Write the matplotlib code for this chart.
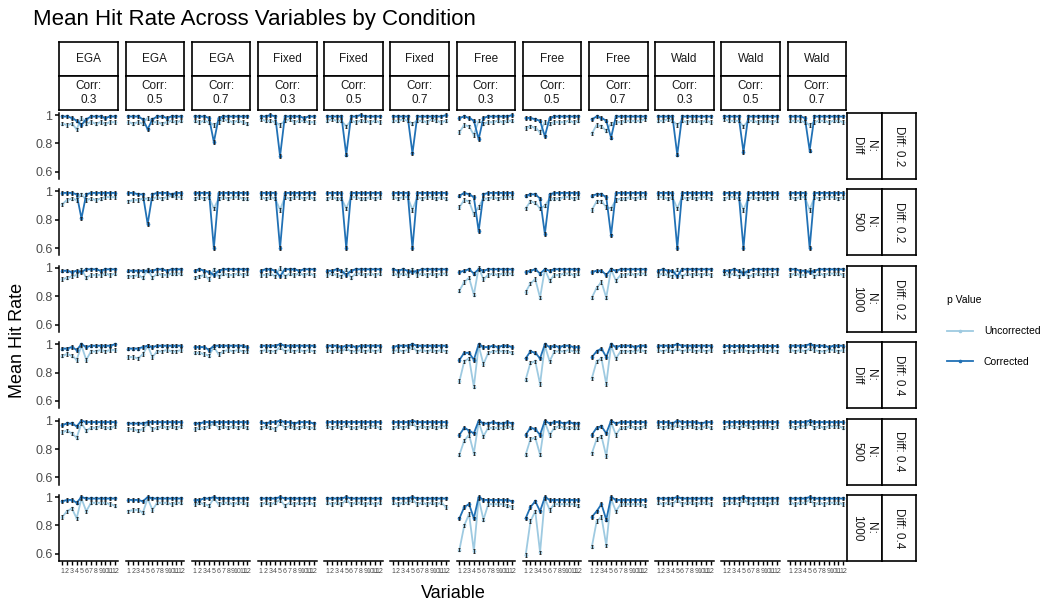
import matplotlib.pyplot as plt
from matplotlib.lines import Line2D

plt.rcParams['font.family'] = ['Liberation Sans', 'DejaVu Sans']

variables = list(range(1, 13))
methods = ['EGA', 'EGA', 'EGA', 'Fixed', 'Fixed', 'Fixed',
           'Free', 'Free', 'Free', 'Wald', 'Wald', 'Wald']
corr_levels = ['0.3', '0.5', '0.7'] * 4
n_labels = ['Diff', '500', '1000', 'Diff', '500', '1000']
diff_labels = ['0.2', '0.2', '0.2', '0.4', '0.4', '0.4']
ci_half = 0.012

# one list of 12 panels (columns) per row, 12 variables per panel
corr_r1 = [
    [0.99, 0.99, 0.98, 0.96, 0.93, 0.97, 0.99, 0.99, 0.99, 0.98, 0.99, 0.99],
    [0.99, 0.99, 0.99, 0.97, 0.90, 0.97, 0.99, 0.99, 0.98, 0.99, 0.99, 0.99],
    [0.99, 0.99, 0.99, 0.98, 0.81, 0.98, 0.99, 0.99, 0.99, 0.99, 0.99, 0.99],
    [0.99, 0.99, 1.00, 0.99, 0.71, 0.99, 0.99, 0.99, 0.99, 0.98, 0.99, 0.99],
    [0.99, 0.99, 0.99, 0.99, 0.72, 0.99, 0.99, 1.00, 0.99, 0.99, 0.99, 0.99],
    [0.99, 0.99, 0.99, 0.99, 0.73, 0.99, 0.99, 0.99, 0.99, 0.99, 0.99, 1.00],
    [0.98, 0.99, 0.98, 0.96, 0.83, 0.98, 0.99, 0.99, 0.99, 0.99, 0.99, 1.00],
    [0.98, 0.98, 0.97, 0.96, 0.85, 0.98, 0.99, 0.99, 0.99, 0.99, 0.99, 0.99],
    [0.97, 0.99, 0.98, 0.96, 0.84, 0.99, 0.99, 0.99, 0.99, 0.99, 0.99, 0.99],
    [0.99, 0.99, 0.99, 0.99, 0.72, 0.99, 0.99, 0.99, 0.99, 0.99, 0.99, 0.99],
    [0.99, 0.99, 0.99, 0.99, 0.74, 0.99, 0.99, 0.99, 0.99, 0.99, 0.99, 0.99],
    [0.99, 0.99, 0.99, 0.98, 0.75, 0.99, 0.99, 0.99, 0.99, 0.99, 0.99, 0.99],
]
unc_r1 = [
    [0.94, 0.93, 0.94, 0.90, 0.98, 0.94, 0.95, 0.94, 0.95, 0.94, 0.95, 0.95],
    [0.95, 0.94, 0.95, 0.94, 0.98, 0.95, 0.95, 0.94, 0.95, 0.96, 0.95, 0.96],
    [0.96, 0.95, 0.96, 0.95, 0.93, 0.95, 0.97, 0.96, 0.95, 0.96, 0.95, 0.94],
    [0.97, 0.96, 0.96, 0.95, 0.93, 0.96, 0.97, 0.95, 0.96, 0.96, 0.95, 0.95],
    [0.96, 0.97, 0.96, 0.96, 0.92, 0.96, 0.95, 0.96, 0.96, 0.95, 0.96, 0.95],
    [0.96, 0.96, 0.97, 0.96, 0.94, 0.96, 0.96, 0.95, 0.97, 0.96, 0.95, 0.96],
    [0.88, 0.93, 0.92, 0.86, 0.96, 0.94, 0.95, 0.95, 0.96, 0.95, 0.96, 0.96],
    [0.91, 0.92, 0.91, 0.88, 0.95, 0.94, 0.95, 0.95, 0.95, 0.96, 0.95, 0.96],
    [0.87, 0.93, 0.92, 0.89, 0.94, 0.95, 0.95, 0.96, 0.96, 0.96, 0.96, 0.97],
    [0.96, 0.96, 0.97, 0.96, 0.93, 0.96, 0.95, 0.96, 0.96, 0.95, 0.96, 0.95],
    [0.97, 0.96, 0.96, 0.96, 0.92, 0.96, 0.96, 0.95, 0.96, 0.96, 0.95, 0.96],
    [0.96, 0.96, 0.96, 0.95, 0.93, 0.95, 0.96, 0.96, 0.95, 0.96, 0.96, 0.95],
]

corr_r2 = [
    [0.99, 0.99, 0.99, 0.98, 0.81, 0.98, 0.99, 0.99, 0.99, 0.99, 0.99, 0.99],
    [0.99, 0.99, 0.98, 0.98, 0.77, 0.98, 0.99, 0.99, 0.99, 0.98, 0.99, 0.99],
    [0.99, 0.99, 0.99, 0.99, 0.60, 0.99, 0.99, 0.99, 0.99, 0.99, 0.99, 0.99],
    [0.99, 0.99, 0.99, 0.99, 0.60, 0.99, 0.99, 0.99, 0.99, 0.99, 0.99, 0.99],
    [0.99, 0.99, 0.99, 0.99, 0.60, 0.99, 0.99, 0.99, 0.99, 0.99, 0.99, 0.99],
    [0.99, 0.99, 0.99, 0.99, 0.60, 0.99, 0.99, 0.99, 0.99, 0.99, 0.99, 0.99],
    [0.97, 0.99, 0.98, 0.96, 0.72, 0.98, 0.99, 0.99, 0.99, 0.99, 0.99, 0.99],
    [0.97, 0.98, 0.98, 0.95, 0.70, 0.98, 0.99, 0.99, 0.99, 0.99, 0.99, 0.99],
    [0.97, 0.98, 0.98, 0.96, 0.69, 0.99, 0.99, 0.99, 0.99, 0.99, 0.99, 0.99],
    [0.99, 0.99, 0.99, 0.99, 0.60, 0.99, 0.99, 0.99, 0.99, 0.99, 0.99, 0.99],
    [0.99, 0.99, 0.99, 0.99, 0.60, 0.99, 0.99, 0.99, 0.99, 0.99, 0.99, 0.99],
    [0.99, 0.99, 0.99, 0.99, 0.60, 0.99, 0.99, 0.99, 0.99, 0.99, 0.99, 0.99],
]
unc_r2 = [
    [0.91, 0.94, 0.95, 0.94, 0.98, 0.94, 0.95, 0.94, 0.95, 0.96, 0.96, 0.96],
    [0.93, 0.94, 0.94, 0.95, 0.95, 0.95, 0.96, 0.95, 0.96, 0.97, 0.96, 0.96],
    [0.95, 0.96, 0.95, 0.96, 0.88, 0.95, 0.96, 0.95, 0.96, 0.96, 0.95, 0.95],
    [0.96, 0.95, 0.96, 0.95, 0.87, 0.96, 0.95, 0.96, 0.96, 0.95, 0.96, 0.95],
    [0.95, 0.96, 0.95, 0.95, 0.88, 0.96, 0.96, 0.95, 0.95, 0.96, 0.95, 0.96],
    [0.96, 0.95, 0.96, 0.96, 0.87, 0.96, 0.95, 0.96, 0.96, 0.95, 0.96, 0.95],
    [0.89, 0.94, 0.93, 0.84, 0.89, 0.95, 0.95, 0.96, 0.95, 0.96, 0.96, 0.96],
    [0.88, 0.93, 0.92, 0.88, 0.90, 0.95, 0.95, 0.95, 0.96, 0.96, 0.95, 0.96],
    [0.87, 0.93, 0.93, 0.89, 0.88, 0.94, 0.95, 0.95, 0.96, 0.95, 0.96, 0.96],
    [0.96, 0.96, 0.95, 0.96, 0.88, 0.96, 0.95, 0.96, 0.95, 0.96, 0.96, 0.95],
    [0.95, 0.96, 0.96, 0.95, 0.87, 0.95, 0.96, 0.95, 0.96, 0.95, 0.96, 0.96],
    [0.96, 0.95, 0.96, 0.96, 0.87, 0.96, 0.95, 0.96, 0.96, 0.96, 0.95, 0.96],
]

corr_r3 = [
    [0.98, 0.98, 0.97, 0.98, 0.97, 0.99, 0.99, 0.99, 0.98, 0.99, 0.99, 0.99],
    [0.98, 0.98, 0.98, 0.98, 0.98, 0.98, 0.99, 0.99, 0.98, 0.99, 0.99, 0.99],
    [0.98, 0.99, 0.98, 0.97, 0.95, 0.98, 0.99, 0.99, 0.99, 0.99, 0.99, 0.99],
    [0.98, 0.99, 0.99, 0.98, 0.94, 0.99, 0.99, 0.99, 0.98, 0.99, 0.99, 0.99],
    [0.98, 0.98, 0.99, 0.98, 0.95, 0.98, 0.99, 0.99, 0.99, 0.99, 0.99, 0.99],
    [0.99, 0.98, 0.99, 0.98, 0.97, 0.98, 0.99, 0.99, 0.99, 0.99, 0.99, 0.99],
    [0.97, 0.98, 0.99, 0.96, 0.99, 0.98, 0.99, 0.99, 0.99, 0.99, 0.99, 0.99],
    [0.97, 0.98, 0.99, 0.96, 0.99, 0.98, 0.99, 0.99, 0.99, 0.99, 0.99, 0.99],
    [0.97, 0.98, 0.98, 0.95, 0.99, 0.98, 0.99, 0.99, 0.99, 0.99, 0.99, 0.99],
    [0.98, 0.99, 0.98, 0.98, 0.94, 0.99, 0.99, 0.99, 0.99, 0.99, 0.99, 0.99],
    [0.98, 0.98, 0.99, 0.98, 0.96, 0.98, 0.99, 0.99, 0.99, 0.99, 0.99, 0.99],
    [0.99, 0.99, 0.98, 0.98, 0.97, 0.98, 0.99, 0.99, 0.99, 0.99, 0.99, 0.99],
]
unc_r3 = [
    [0.92, 0.93, 0.94, 0.95, 0.99, 0.93, 0.95, 0.95, 0.95, 0.96, 0.95, 0.96],
    [0.94, 0.94, 0.95, 0.93, 0.99, 0.93, 0.96, 0.95, 0.95, 0.96, 0.96, 0.96],
    [0.93, 0.94, 0.95, 0.92, 0.99, 0.94, 0.96, 0.95, 0.95, 0.96, 0.95, 0.96],
    [0.95, 0.95, 0.96, 0.94, 1.00, 0.94, 0.96, 0.95, 0.96, 0.95, 0.96, 0.95],
    [0.95, 0.96, 0.95, 0.94, 0.99, 0.93, 0.96, 0.96, 0.95, 0.96, 0.95, 0.96],
    [0.96, 0.95, 0.96, 0.95, 0.99, 0.95, 0.96, 0.95, 0.96, 0.95, 0.96, 0.96],
    [0.84, 0.90, 0.93, 0.81, 1.00, 0.92, 0.95, 0.96, 0.95, 0.96, 0.96, 0.96],
    [0.83, 0.89, 0.92, 0.79, 0.99, 0.91, 0.95, 0.95, 0.96, 0.96, 0.95, 0.96],
    [0.79, 0.86, 0.90, 0.79, 0.99, 0.91, 0.95, 0.95, 0.96, 0.95, 0.96, 0.96],
    [0.95, 0.96, 0.95, 0.94, 0.99, 0.94, 0.96, 0.95, 0.96, 0.95, 0.96, 0.95],
    [0.96, 0.95, 0.96, 0.94, 0.99, 0.94, 0.95, 0.96, 0.95, 0.96, 0.95, 0.96],
    [0.95, 0.96, 0.95, 0.95, 0.99, 0.94, 0.96, 0.95, 0.96, 0.96, 0.96, 0.95],
]

corr_r4 = [
    [0.97, 0.97, 0.98, 0.96, 1.00, 0.98, 0.99, 0.99, 0.99, 0.99, 0.99, 1.00],
    [0.97, 0.97, 0.97, 0.98, 0.99, 0.98, 0.99, 0.99, 0.99, 0.99, 0.99, 0.99],
    [0.98, 0.98, 0.98, 0.96, 0.99, 0.99, 0.99, 0.99, 0.99, 0.99, 0.99, 0.98],
    [0.99, 0.99, 0.99, 0.99, 1.00, 0.99, 0.99, 0.99, 0.99, 0.99, 0.99, 0.99],
    [0.99, 0.99, 0.99, 0.98, 0.99, 0.99, 0.98, 0.99, 0.99, 0.99, 0.99, 0.99],
    [0.98, 0.99, 0.99, 0.99, 1.00, 0.99, 0.99, 0.99, 0.99, 0.99, 0.99, 0.99],
    [0.89, 0.94, 0.94, 0.89, 1.00, 0.98, 0.98, 0.99, 0.98, 0.99, 0.99, 0.98],
    [0.90, 0.95, 0.94, 0.90, 1.00, 0.98, 0.99, 0.98, 0.99, 0.99, 0.98, 0.98],
    [0.91, 0.95, 0.97, 0.91, 1.00, 0.98, 0.99, 0.99, 0.99, 0.98, 0.99, 0.99],
    [0.99, 0.99, 0.99, 0.99, 1.00, 0.99, 0.99, 0.99, 0.99, 0.99, 0.99, 0.99],
    [0.99, 0.99, 0.99, 0.99, 0.99, 0.99, 0.99, 0.99, 0.99, 0.99, 0.99, 0.99],
    [0.99, 0.99, 0.99, 0.99, 1.00, 0.99, 0.99, 0.99, 0.98, 0.99, 0.99, 0.99],
]
unc_r4 = [
    [0.92, 0.93, 0.92, 0.89, 0.99, 0.89, 0.95, 0.95, 0.96, 0.95, 0.96, 0.96],
    [0.91, 0.91, 0.90, 0.93, 0.99, 0.91, 0.95, 0.95, 0.96, 0.95, 0.95, 0.96],
    [0.94, 0.94, 0.93, 0.92, 0.98, 0.93, 0.95, 0.96, 0.95, 0.96, 0.95, 0.95],
    [0.95, 0.96, 0.95, 0.95, 0.98, 0.95, 0.96, 0.95, 0.96, 0.95, 0.96, 0.95],
    [0.96, 0.95, 0.96, 0.95, 0.97, 0.95, 0.95, 0.96, 0.95, 0.96, 0.95, 0.96],
    [0.95, 0.96, 0.95, 0.96, 0.98, 0.95, 0.96, 0.95, 0.96, 0.95, 0.96, 0.95],
    [0.74, 0.88, 0.90, 0.70, 0.99, 0.86, 0.94, 0.95, 0.95, 0.95, 0.95, 0.94],
    [0.75, 0.87, 0.88, 0.72, 0.99, 0.88, 0.95, 0.95, 0.95, 0.96, 0.95, 0.95],
    [0.76, 0.88, 0.90, 0.72, 0.99, 0.90, 0.95, 0.95, 0.95, 0.95, 0.96, 0.95],
    [0.96, 0.95, 0.96, 0.95, 0.97, 0.95, 0.96, 0.96, 0.95, 0.96, 0.95, 0.96],
    [0.95, 0.96, 0.95, 0.96, 0.96, 0.95, 0.95, 0.96, 0.96, 0.95, 0.96, 0.95],
    [0.96, 0.95, 0.96, 0.95, 0.97, 0.96, 0.95, 0.95, 0.96, 0.96, 0.95, 0.96],
]

corr_r5 = [
    [0.97, 0.98, 0.98, 0.96, 1.00, 0.99, 0.99, 0.99, 0.99, 0.99, 0.99, 0.99],
    [0.98, 0.98, 0.98, 0.98, 0.99, 0.99, 0.99, 0.99, 0.99, 0.99, 0.99, 0.99],
    [0.98, 0.98, 0.99, 0.99, 0.99, 0.99, 0.99, 0.99, 0.99, 0.99, 0.99, 0.99],
    [0.99, 0.98, 0.99, 0.99, 1.00, 0.99, 0.99, 0.98, 0.99, 0.99, 0.99, 0.98],
    [0.99, 0.99, 0.99, 0.99, 0.99, 0.99, 0.99, 0.99, 0.99, 0.99, 0.99, 0.99],
    [0.99, 0.99, 0.99, 0.99, 1.00, 0.99, 0.99, 0.99, 0.99, 0.99, 0.99, 0.99],
    [0.90, 0.95, 0.93, 0.91, 1.00, 0.98, 0.98, 0.99, 0.98, 0.98, 0.99, 0.98],
    [0.90, 0.95, 0.94, 0.90, 1.00, 0.98, 0.99, 0.99, 0.98, 0.99, 0.98, 0.98],
    [0.90, 0.95, 0.96, 0.91, 1.00, 0.98, 0.99, 0.99, 0.99, 0.99, 0.99, 0.99],
    [0.99, 0.99, 0.99, 0.98, 1.00, 0.99, 0.99, 0.99, 0.99, 0.98, 0.99, 0.99],
    [0.99, 0.99, 0.99, 0.99, 0.99, 0.99, 0.99, 0.99, 0.99, 0.99, 0.99, 0.99],
    [0.99, 0.99, 0.99, 0.99, 1.00, 0.99, 0.99, 0.99, 0.99, 0.99, 0.99, 0.99],
]
unc_r5 = [
    [0.92, 0.93, 0.91, 0.88, 0.98, 0.93, 0.95, 0.95, 0.96, 0.95, 0.95, 0.96],
    [0.94, 0.94, 0.93, 0.94, 0.98, 0.94, 0.95, 0.96, 0.95, 0.96, 0.95, 0.96],
    [0.94, 0.95, 0.95, 0.96, 0.98, 0.95, 0.96, 0.95, 0.96, 0.95, 0.96, 0.95],
    [0.95, 0.96, 0.95, 0.94, 0.98, 0.95, 0.96, 0.95, 0.95, 0.96, 0.95, 0.95],
    [0.96, 0.95, 0.96, 0.95, 0.97, 0.95, 0.95, 0.96, 0.95, 0.96, 0.96, 0.95],
    [0.95, 0.96, 0.95, 0.96, 0.98, 0.95, 0.96, 0.95, 0.96, 0.95, 0.96, 0.96],
    [0.76, 0.86, 0.90, 0.77, 0.99, 0.89, 0.95, 0.95, 0.95, 0.95, 0.96, 0.95],
    [0.76, 0.87, 0.88, 0.76, 0.99, 0.90, 0.95, 0.96, 0.95, 0.95, 0.95, 0.95],
    [0.77, 0.87, 0.89, 0.75, 0.99, 0.90, 0.95, 0.95, 0.96, 0.95, 0.95, 0.96],
    [0.96, 0.95, 0.96, 0.95, 0.97, 0.95, 0.96, 0.96, 0.95, 0.95, 0.96, 0.95],
    [0.95, 0.96, 0.96, 0.95, 0.97, 0.96, 0.95, 0.96, 0.96, 0.96, 0.95, 0.96],
    [0.96, 0.95, 0.96, 0.96, 0.98, 0.95, 0.96, 0.95, 0.96, 0.96, 0.96, 0.95],
]

corr_r6 = [
    [0.97, 0.98, 0.98, 0.96, 1.00, 0.99, 0.99, 0.99, 0.99, 0.99, 0.99, 0.99],
    [0.98, 0.98, 0.98, 0.97, 1.00, 0.99, 0.99, 0.99, 0.99, 0.99, 0.99, 0.99],
    [0.98, 0.98, 0.99, 0.99, 1.00, 0.99, 0.99, 0.99, 0.99, 0.99, 0.99, 0.99],
    [0.99, 0.99, 0.99, 0.99, 1.00, 0.99, 0.99, 0.99, 0.99, 0.99, 0.99, 0.99],
    [0.99, 0.99, 0.99, 0.99, 1.00, 0.99, 0.99, 0.99, 0.99, 0.99, 0.99, 0.99],
    [0.99, 0.99, 0.99, 0.99, 1.00, 0.99, 0.99, 0.99, 0.99, 0.99, 0.99, 0.99],
    [0.85, 0.93, 0.95, 0.85, 1.00, 0.98, 0.98, 0.98, 0.98, 0.98, 0.98, 0.97],
    [0.85, 0.93, 0.97, 0.90, 1.00, 0.98, 0.98, 0.98, 0.98, 0.98, 0.98, 0.98],
    [0.86, 0.90, 0.95, 0.84, 1.00, 0.98, 0.98, 0.98, 0.98, 0.98, 0.98, 0.98],
    [0.99, 0.99, 0.99, 0.99, 1.00, 0.99, 0.99, 0.99, 0.99, 0.99, 0.99, 0.99],
    [0.99, 0.99, 0.99, 0.99, 1.00, 0.99, 0.99, 0.99, 0.99, 0.99, 0.99, 0.99],
    [0.99, 0.99, 0.99, 0.99, 1.00, 0.99, 0.99, 0.99, 0.99, 0.99, 0.99, 0.99],
]
unc_r6 = [
    [0.86, 0.90, 0.92, 0.85, 0.99, 0.90, 0.96, 0.96, 0.96, 0.96, 0.95, 0.94],
    [0.90, 0.91, 0.91, 0.89, 0.99, 0.91, 0.96, 0.96, 0.96, 0.95, 0.96, 0.96],
    [0.95, 0.96, 0.95, 0.94, 0.99, 0.95, 0.96, 0.96, 0.95, 0.96, 0.96, 0.95],
    [0.95, 0.96, 0.95, 0.96, 0.98, 0.94, 0.96, 0.95, 0.96, 0.95, 0.96, 0.95],
    [0.96, 0.95, 0.96, 0.95, 0.98, 0.95, 0.96, 0.96, 0.95, 0.96, 0.95, 0.96],
    [0.96, 0.95, 0.96, 0.96, 0.98, 0.95, 0.96, 0.95, 0.96, 0.95, 0.96, 0.93],
    [0.63, 0.80, 0.88, 0.62, 0.99, 0.84, 0.95, 0.95, 0.95, 0.95, 0.94, 0.93],
    [0.59, 0.83, 0.90, 0.61, 0.99, 0.91, 0.95, 0.95, 0.95, 0.95, 0.95, 0.94],
    [0.65, 0.83, 0.86, 0.66, 0.99, 0.90, 0.95, 0.95, 0.95, 0.95, 0.95, 0.94],
    [0.96, 0.95, 0.96, 0.95, 0.98, 0.95, 0.96, 0.96, 0.95, 0.96, 0.96, 0.95],
    [0.95, 0.96, 0.96, 0.95, 0.98, 0.96, 0.95, 0.96, 0.96, 0.95, 0.96, 0.96],
    [0.96, 0.95, 0.96, 0.96, 0.98, 0.95, 0.96, 0.95, 0.96, 0.96, 0.96, 0.95],
]

corrected = [corr_r1, corr_r2, corr_r3, corr_r4, corr_r5, corr_r6]
uncorrected = [unc_r1, unc_r2, unc_r3, unc_r4, unc_r5, unc_r6]

LIGHT = '#9ecae1'
DARK = '#2171b5'
ERR = '#1a1a1a'
GREY = '#4d4d4d'

W, H = 1041, 603
fig = plt.figure(figsize=(W / 100, H / 100), dpi=100)


def px_axes(x, y, w, h):
    # pixel box measured from the top-left corner
    return fig.add_axes([x / W, 1 - (y + h) / H, w / W, h / H])


def strip(x, y, w, h, label, rot=0):
    ax = px_axes(x, y, w, h)
    ax.set_xticks([])
    ax.set_yticks([])
    for s in ax.spines.values():
        s.set_linewidth(1.2)
        s.set_color('black')
    ax.text(0.5, 0.5, label, ha='center', va='center', rotation=rot,
            fontsize=8.5, color='#1a1a1a', transform=ax.transAxes,
            linespacing=1.25)


PX0, PY0 = 59.4, 113
PW, PH = 58.5, 66
DX, DY = 66.2, 76.4

for r in range(6):
    for c in range(12):
        ax = px_axes(PX0 + c * DX, PY0 + r * DY, PW, PH)
        u = uncorrected[r][c]
        k = corrected[r][c]
        ax.plot(variables, u, color=LIGHT, lw=1.3, marker='o', ms=1.6, zorder=2)
        ax.plot(variables, k, color=DARK, lw=1.3, marker='o', ms=1.6, zorder=3)
        ax.errorbar(variables, u, yerr=ci_half, fmt='none', ecolor=ERR,
                    elinewidth=0.6, capsize=0.8, capthick=0.6, zorder=4)
        ax.errorbar(variables, k, yerr=ci_half, fmt='none', ecolor=ERR,
                    elinewidth=0.6, capsize=0.8, capthick=0.6, zorder=4)
        ax.set_xlim(0.4, 12.6)
        ax.set_ylim(0.549, 1.0145)
        ax.patch.set_alpha(0)
        for s in ['top', 'right']:
            ax.spines[s].set_visible(False)
        if c == 0:
            ax.spines['left'].set_linewidth(1.1)
            ax.set_yticks([0.6, 0.8, 1.0])
            ax.set_yticklabels(['0.6', '0.8', '1'])
            ax.tick_params(axis='y', length=3, width=1.1, labelsize=9,
                           labelcolor=GREY, pad=2)
        else:
            ax.spines['left'].set_visible(False)
            ax.set_yticks([])
        if r == 5:
            ax.spines['bottom'].set_linewidth(1.1)
            ax.set_xticks(variables)
            ax.set_xticklabels([str(v) for v in variables])
            ax.tick_params(axis='x', length=3, width=1.0, labelsize=5,
                           labelcolor=GREY, pad=2)
        else:
            ax.spines['bottom'].set_visible(False)
            ax.set_xticks([])

for c in range(12):
    strip(PX0 + c * DX, 42, PW, 34, methods[c])
    strip(PX0 + c * DX, 76, PW, 34, 'Corr:\n' + corr_levels[c])

for r in range(6):
    strip(847, PY0 + r * DY, 34.5, PH, 'N:\n' + n_labels[r], rot=-90)
    strip(881.5, PY0 + r * DY, 34.5, PH, 'Diff: ' + diff_labels[r], rot=-90)

fig.text(33 / W, 1 - 19 / H, 'Mean Hit Rate Across Variables by Condition',
         fontsize=16, va='center', ha='left')
fig.text(18 / W, 1 - 340 / H, 'Mean Hit Rate', fontsize=13, rotation=90,
         va='center', ha='center')
fig.text(453 / W, 1 - 593 / H, 'Variable', fontsize=13, va='center',
         ha='center')

handles = [Line2D([], [], color=LIGHT, lw=1.3, marker='o', ms=1.6),
           Line2D([], [], color=DARK, lw=1.3, marker='o', ms=1.6)]
leg = fig.legend(handles, ['Uncorrected', 'Corrected'], title='p Value',
                 loc='upper left', bbox_to_anchor=(938 / W, 1 - 286 / H),
                 frameon=False, fontsize=7.5, title_fontsize=7.5,
                 labelspacing=2.0, handlelength=2.5, handletextpad=1.0,
                 alignment='left')

fig.savefig('out.png', dpi=100)
